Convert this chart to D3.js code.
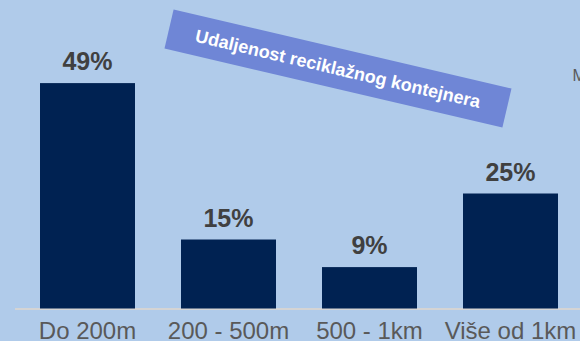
<!DOCTYPE html>
<html>
<head>
<meta charset="utf-8">
<script src="https://cdn.jsdelivr.net/npm/d3@7"></script>
<style>
  html, body { margin: 0; padding: 0; background: #b0cbea; }
  svg { display: block; }
</style>
</head>
<body>
<svg id="chart" width="580" height="341"></svg>
<script>
// Distance to the nearest recycling container (share of respondents, %)
const categories = ["Do 200m", "200 - 500m", "500 - 1km", "Više od 1km"];
const values = [49, 15, 9, 25];
const valueLabels = ["49%", "15%", "9%", "25%"];
const title = "Udaljenost reciklažnog kontejnera";
const legendStub = "M";

const W = 580, H = 341;
const baseY = 308.5;
const svg = d3.select("#chart");

svg.append("rect").attr("width", W).attr("height", H).attr("fill", "#b0cbea");

const x = d3.scaleBand()
  .domain(categories)
  .range([17, 581])
  .paddingInner(46 / 141)
  .paddingOuter(23 / 141);

const y = d3.scaleLinear().domain([0, 50]).range([baseY, baseY - 230]);

// baseline
svg.append("line")
  .attr("x1", 15).attr("x2", W)
  .attr("y1", baseY + 0.5).attr("y2", baseY + 0.5)
  .attr("stroke", "#d4d4d4").attr("stroke-width", 2);

// bars
svg.selectAll("rect.bar")
  .data(values)
  .join("rect")
  .attr("class", "bar")
  .attr("x", (d, i) => x(categories[i]))
  .attr("width", x.bandwidth())
  .attr("y", d => y(d))
  .attr("height", d => baseY - y(d))
  .attr("fill", "#002252");

// value labels
svg.selectAll("text.val")
  .data(values)
  .join("text")
  .attr("class", "val")
  .attr("x", (d, i) => x(categories[i]) + x.bandwidth() / 2)
  .attr("y", d => y(d) - 13)
  .attr("text-anchor", "middle")
  .attr("font-family", "'Liberation Sans', Arial, sans-serif")
  .attr("font-weight", "bold")
  .attr("font-size", 25)
  .attr("fill", "#404040")
  .text((d, i) => valueLabels[i]);

// category axis (labels only)
const xAxis = d3.axisBottom(x).tickSize(0).tickPadding(0);
const gx = svg.append("g").attr("transform", `translate(0,${baseY})`).call(xAxis);
gx.select(".domain").remove();
gx.selectAll("text")
  .attr("y", 30.5)
  .attr("dy", null)
  .attr("font-family", "'Liberation Sans', Arial, sans-serif")
  .attr("font-size", 24)
  .attr("fill", "#595959");

// rotated title banner
const banner = svg.append("g").attr("transform", "translate(338,68.5) rotate(13.15)");
banner.append("rect")
  .attr("x", -173.5).attr("y", -20)
  .attr("width", 347).attr("height", 40)
  .attr("fill", "#6f86d6");
banner.append("text")
  .attr("x", 0).attr("y", 6.5)
  .attr("text-anchor", "middle")
  .attr("font-family", "'Liberation Sans', Arial, sans-serif")
  .attr("font-weight", "bold")
  .attr("font-size", 18)
  .attr("fill", "#ffffff")
  .text(title);

// legend text clipped by the right edge
svg.append("text")
  .attr("x", 572.5).attr("y", 81)
  .attr("font-family", "'Liberation Sans', Arial, sans-serif")
  .attr("font-size", 16)
  .attr("fill", "#595959")
  .text(legendStub);
</script>
</body>
</html>
